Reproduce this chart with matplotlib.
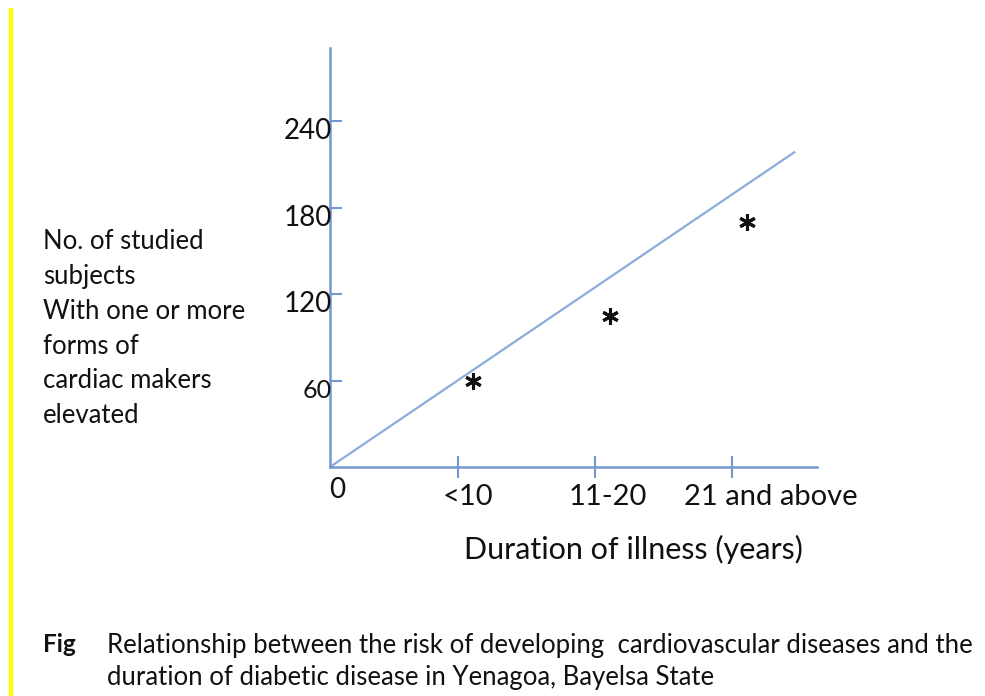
import matplotlib.pyplot as plt
import numpy as np

# data
categories = ['<10', '11-20', '21 and above']
cat_pos = [0.94, 1.94, 2.95]
star_vals = [60, 105, 170]
yticks = [60, 120, 180, 240]
trend_x = [0, 3.41]
trend_y = [0, 219]

ylabel_lines = ['No. of studied', 'subjects', 'With one or more',
                'forms of', 'cardiac makers', 'elevated']

W, H = 985, 696
blue = '#7199cf'
plt.rcParams['font.family'] = ['Lato', 'DejaVu Sans']

fig = plt.figure(figsize=(W / 100, H / 100), dpi=100)

def px(x, y):
    return x / W, 1 - y / H

# axes box: origin at (330, 467), x end 817, y top 48
l, b = px(330, 467)
r, t = px(817, 48)
ax = fig.add_axes([l, b, r - l, t - b])
ax.set_xlim(0, 3.57)
ax.set_ylim(0, 291)
ax.patch.set_alpha(0)
for s in ['top', 'right']:
    ax.spines[s].set_visible(False)
for s in ['left', 'bottom']:
    ax.spines[s].set_color(blue)
    ax.spines[s].set_linewidth(1.8)

ax.plot(trend_x, trend_y, color='#8aaddb', lw=1.6, solid_capstyle='butt')
ax.plot([p + 0.11 for p in cat_pos], star_vals, ls='none',
        marker=(6, 2, 0), ms=12, mew=2.2, color='#111111')

ax.set_yticks(yticks)
ax.set_yticklabels([])
ax.tick_params(axis='y', direction='in', length=8.5, width=1.5, color=blue)
ax.set_xticks(cat_pos)
ax.set_xticklabels([])
ax.tick_params(axis='x', direction='inout', length=16, width=1.5, color=blue)

for v in yticks:
    fs = 18 if v == 60 else 20
    ax.annotate(str(v), (0, v), xytext=(2, -10), textcoords='offset pixels',
                ha='right', va='center', fontsize=fs, color='#111111')

x_off = [10, 13, 38]
for p, lab, o in zip(cat_pos, categories, x_off):
    ax.annotate(lab, (p, 0), xytext=(o, -30), textcoords='offset pixels',
                ha='center', va='center', fontsize=21, color='#111111')
ax.annotate('0', (0, 0), xytext=(7, -23), textcoords='offset pixels',
            ha='center', va='center', fontsize=20, color='#111111')

fig.text(*px(633, 549), 'Duration of illness (years)', ha='center', va='center',
         fontsize=22, color='#111111')

for i, line in enumerate(ylabel_lines):
    fig.text(*px(43, 242 + i * 34.7), line, ha='left', va='center',
             fontsize=18.5, color='#111111')

fig.text(*px(43, 645), 'Fig', ha='left', va='center', fontsize=17.5,
         fontweight='bold', color='#111111')
fig.text(*px(107, 645),
         'Relationship between the risk of developing  cardiovascular diseases and the',
         ha='left', va='center', fontsize=18.5, color='#111111')
fig.text(*px(107, 677), 'duration of diabetic disease in Yenagoa, Bayelsa State',
         ha='left', va='center', fontsize=18.5, color='#111111')

# yellow margin bar on the left
fig.add_artist(plt.Line2D([11 / W, 11 / W], [1 - 10 / H, 0], color='#ffff00',
                          lw=3, transform=fig.transFigure))

fig.savefig('out.png', dpi=100)
